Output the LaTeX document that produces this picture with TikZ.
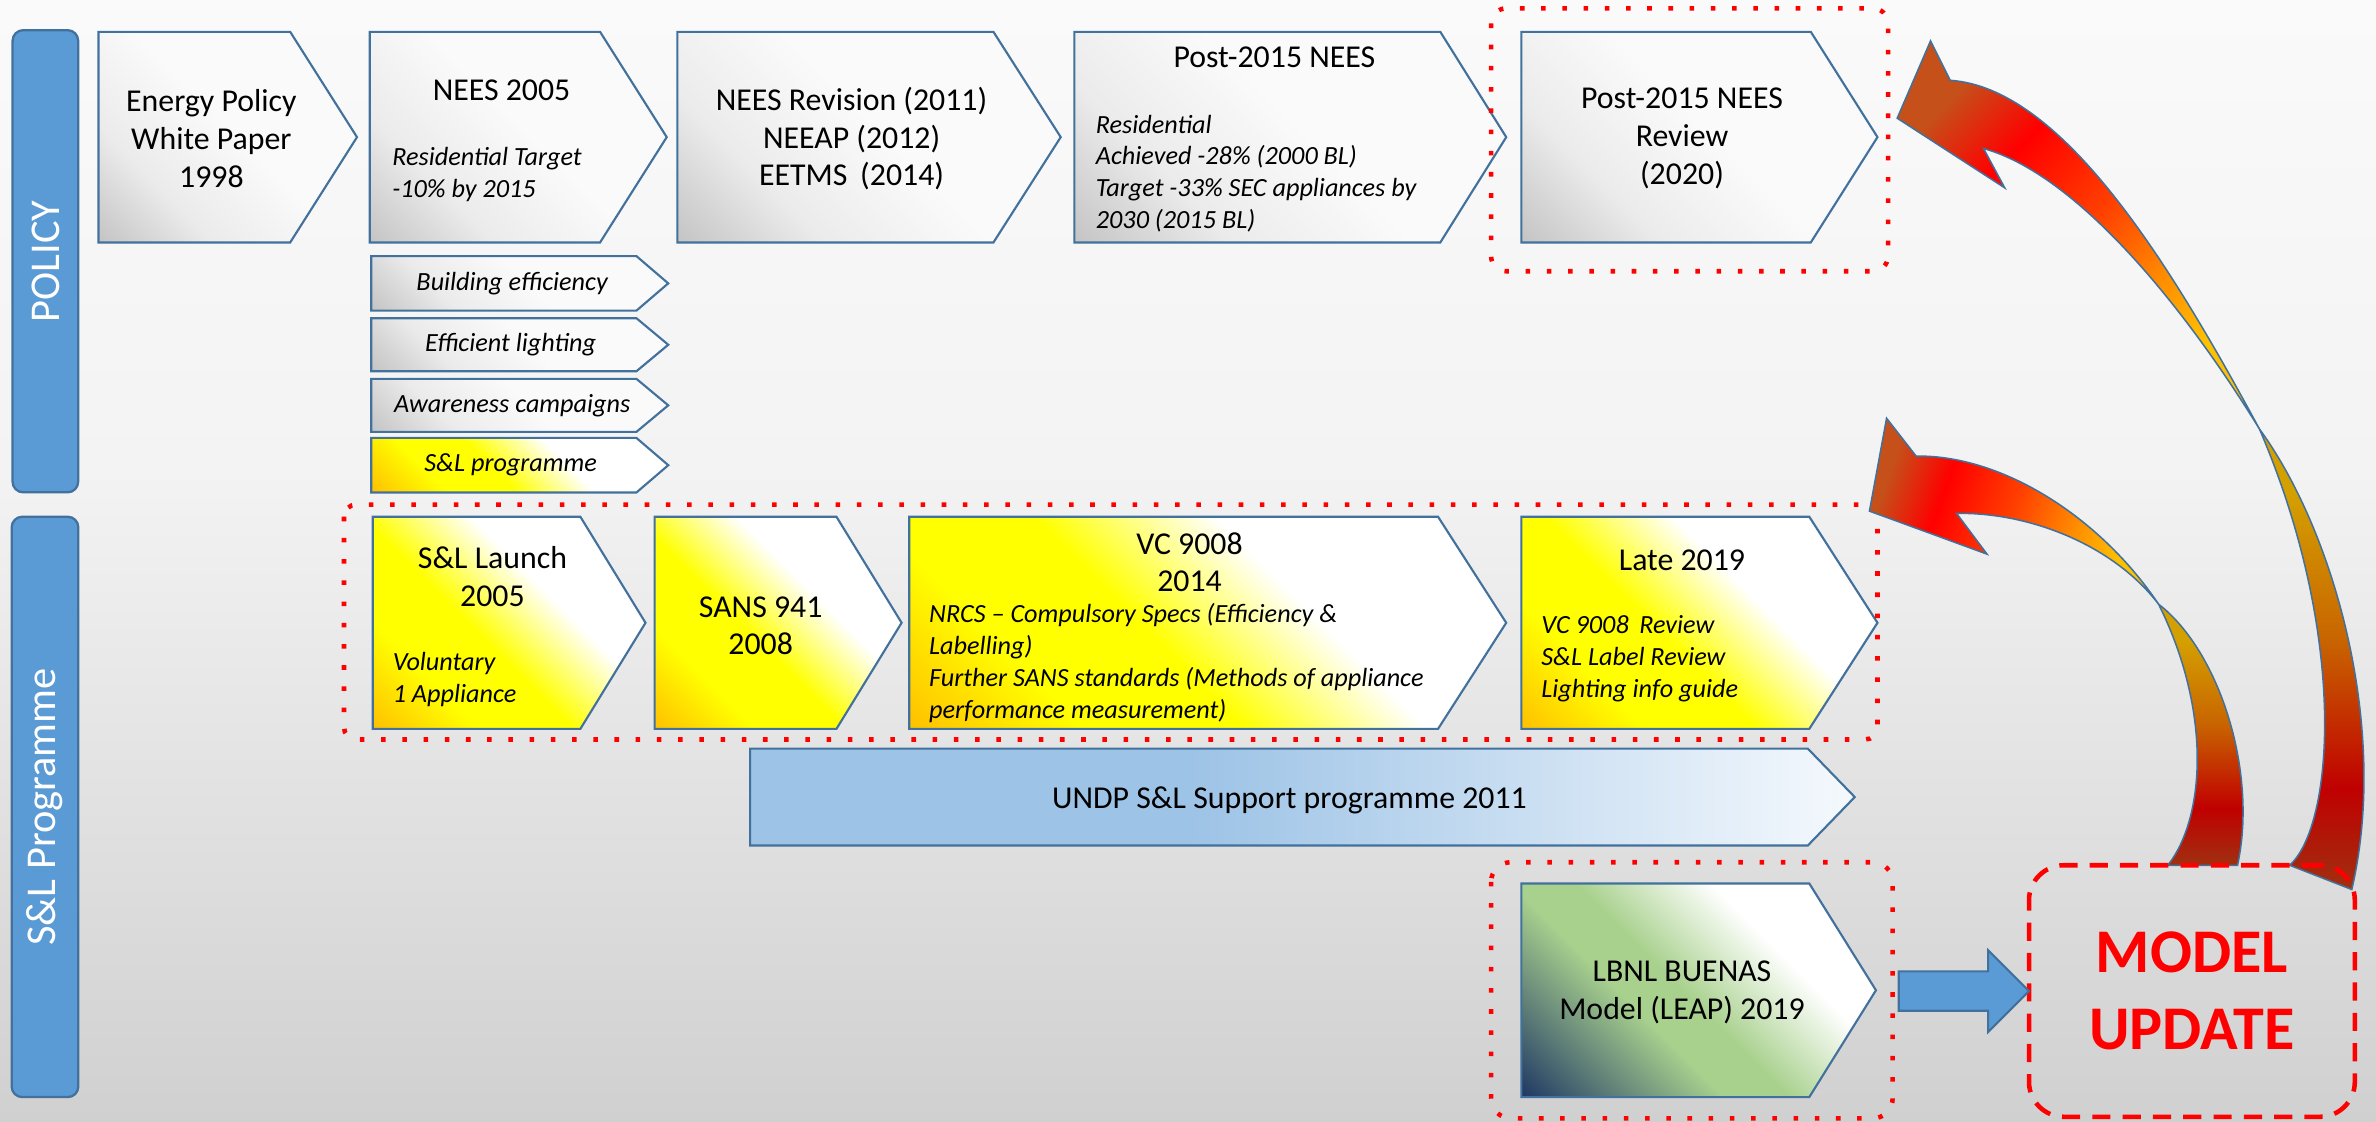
\documentclass[tikz,border=0pt]{standalone}
\usepackage{fontspec}
\setmainfont{Carlito}
\usetikzlibrary{shadings}
\definecolor{chevb}{HTML}{41719C}
\definecolor{barblue}{HTML}{5B9BD5}
\definecolor{bgT}{HTML}{FAFAFA}
\definecolor{bgM}{HTML}{F3F3F3}
\definecolor{bgB}{HTML}{D0D0D0}
\definecolor{grD}{HTML}{C4C4C4}
\definecolor{grM}{HTML}{EBEBEB}
\definecolor{grL}{HTML}{FAFAFA}
\definecolor{orY}{HTML}{FFC000}
\definecolor{yelY}{HTML}{FFFF00}
\definecolor{navyG}{HTML}{1F3864}
\definecolor{greenG}{HTML}{A9D18E}
\definecolor{blueU}{HTML}{9DC3E6}
\definecolor{whiteU}{HTML}{F5F9FD}
\definecolor{arBrown}{HTML}{C5501A}
\definecolor{arRed}{HTML}{FF0000}
\definecolor{arRedOr}{HTML}{FF4000}
\definecolor{arOr}{HTML}{FF8C00}
\definecolor{arGold}{HTML}{FFC000}
\definecolor{arGold2}{HTML}{D4A000}
\definecolor{arMid}{HTML}{C86400}
\definecolor{arDark}{HTML}{C00000}
\definecolor{arBase}{HTML}{A03010}
\pgfdeclareverticalshading{bgsh}{100bp}{color(0bp)=(bgB); color(25bp)=(bgB); color(54bp)=(bgM); color(75bp)=(bgT); color(100bp)=(bgT)}
\pgfdeclareverticalshading{graysh}{100bp}{color(0bp)=(grD); color(14.6bp)=(grD); color(32bp)=(grM); color(52bp)=(grL); color(100bp)=(grL)}
\pgfdeclareverticalshading{yelsh}{100bp}{color(0bp)=(orY); color(14.6bp)=(orY); color(30bp)=(yelY); color(44bp)=(yelY); color(60bp)=(white); color(100bp)=(white)}
\pgfdeclareverticalshading{greensh}{100bp}{color(0bp)=(navyG); color(14.6bp)=(navyG); color(40bp)=(greenG); color(48bp)=(greenG); color(65bp)=(white); color(100bp)=(white)}
\pgfdeclarehorizontalshading{undpsh}{100bp}{color(0bp)=(blueU); color(25bp)=(blueU); color(45bp)=(blueU); color(75bp)=(whiteU); color(100bp)=(whiteU)}
\pgfdeclarehorizontalshading{headsh}{100bp}{color(0bp)=(arBrown); color(25bp)=(arBrown); color(36bp)=(arRed); color(50bp)=(arRedOr); color(62bp)=(arOr); color(72bp)=(arGold); color(100bp)=(arGold)}
\pgfdeclareverticalshading{tailsh}{100bp}{color(0bp)=(arBase); color(25bp)=(arBase); color(36bp)=(arDark); color(52bp)=(arMid); color(68bp)=(arGold2); color(100bp)=(arGold2)}
\newcommand\mychev[6]{\shadedraw[#1] (#2,#3) -- (#4,#3) -- (#5,{(#3+#6)/2}) -- (#4,#6) -- (#2,#6) -- cycle;}
\begin{document}
\begin{tikzpicture}[x=1pt,y=-1pt,
  chev/.style={draw=chevb, line width=1.4pt, line join=miter},
  grayc/.style={chev, shading=graysh, shading angle=-45},
  yelc/.style={chev, shading=yelsh, shading angle=-45},
  greenc/.style={chev, shading=greensh, shading angle=-45},
  undpc/.style={chev, shading=undpsh, shading angle=0},
  main/.style={font=\fontsize{21}{25}\selectfont, align=center, inner sep=0pt},
  itx/.style={font=\fontsize{17.3}{21}\selectfont\itshape, align=left, inner sep=0pt, anchor=west},
  subt/.style={font=\fontsize{17.3}{21}\selectfont\itshape, inner sep=0pt},
  bar/.style={draw=chevb, line width=1.5pt, fill=barblue, rounded corners=7pt, rotate=90, font=\fontsize{28}{30}\selectfont, text=white, inner sep=0pt},
  dotbox/.style={draw=red, line width=3pt, dash pattern=on 3pt off 11pt, rounded corners=10pt},
  mubox/.style={draw=red, line width=3pt, dash pattern=on 12pt off 8pt, rounded corners=23pt, minimum width=215pt, minimum height=166pt, outer sep=0pt, font=\fontsize{41}{51}\selectfont\bfseries, text=red, align=center},
  bluearrow/.style={draw=chevb, line width=1.4pt, fill=barblue, line join=miter},
  arrowline/.style={draw=chevb, line width=1pt, line join=miter}]
\useasboundingbox (0,0) rectangle (1568,740);
\shade[shading=bgsh] (0,0) rectangle (1568,740);
% side bars
\node[bar, minimum width=305pt, minimum height=43.3pt] (policy) at (29.95,172.4) {POLICY};
\node[bar, minimum width=383pt, minimum height=44pt] (slprog) at (29.7,532.5) {S\&L Programme};
% top row
\mychev{grayc}{65}{21}{191.5}{235.6}{160}
\node[main] (ep) at (139.5,91.5) {Energy Policy\\White Paper\\1998};
\mychev{grayc}{244}{21}{396}{440}{160}
\node[main] (n05) at (331,59.5) {NEES 2005};
\node[itx] (n05t) at (258.7,115) {Residential Target\\-10\% by 2015};
\mychev{grayc}{447}{21}{655.6}{700}{160}
\node[main] (nrev) at (562,91.5) {NEES Revision (2011)\\NEEAP (2012)\\EETMS\hspace{0.4em}(2014)};
\mychev{grayc}{709}{21}{950.5}{994}{160}
\node[main] (p15) at (841,38) {Post-2015 NEES};
\node[itx] (p15t) at (723,114.5) {Residential\\Achieved -28\% (2000 BL)\\Target -33\% SEC appliances by\\2030 (2015 BL)};
\mychev{grayc}{1004}{21}{1195}{1239}{160}
\node[main] (p15r) at (1110,91.5) {Post-2015 NEES\\Review\\(2020)};
\draw[dotbox] (984,5.5) rectangle (1246,179);
% sub chevrons
\mychev{grayc}{245}{169}{420}{441}{205}
\node[subt] (be) at (338,187) {Building efficiency};
\mychev{grayc}{245}{210}{420}{441}{245}
\node[subt] (el) at (337,227.5) {Efficient lighting};
\mychev{grayc}{245}{250}{420}{441}{285}
\node[subt] (ac) at (338,267.5) {Awareness campaigns};
\mychev{yelc}{245}{289}{420}{441}{325}
\node[subt] (slp) at (337,307) {S\&L programme};
% row 2
\mychev{yelc}{246}{341}{383}{426}{481}
\node[main] (sll) at (325,380.5) {S\&L Launch\\2005};
\node[itx] (sllt) at (259,448.5) {Voluntary\\1 Appliance};
\mychev{yelc}{432}{341}{552}{595}{481}
\node[main] (sans) at (502,413) {SANS 941\\2008};
\mychev{yelc}{600}{341}{949}{994}{481}
\node[main] (vc) at (785,371) {VC 9008\\2014};
\node[itx] (vct) at (613,437.5) {NRCS – Compulsory Specs (Efficiency \&\\Labelling)\\Further SANS standards (Methods of appliance\\performance measurement)};
\mychev{yelc}{1004}{341}{1194}{1239}{481}
\node[main] (late) at (1110,370) {Late 2019};
\node[itx] (latet) at (1017,434.5) {VC 9008\hspace{0.4em}Review\\S\&L Label Review\\Lighting info guide};
\draw[dotbox, rounded corners=8pt] (227,333) rectangle (1239,488);
% UNDP
\mychev{undpc}{495}{494}{1193}{1224}{558}
\node[main] (undp) at (851,528) {UNDP S\&L Support programme 2011};
% LBNL
\mychev{greenc}{1004}{583}{1194}{1238}{724}
\node[main] (lbnl) at (1110,655) {LBNL BUENAS\\Model (LEAP) 2019};
\draw[dotbox, rounded corners=13pt] (984,569) rectangle (1249,738);
% curved arrows
\shadedraw[arrowline, shading=headsh, shading angle=-45]
  (1491,283) .. controls (1430,170) and (1360,58) .. (1287,53) -- (1274,27) -- (1252,78) -- (1323,124) -- (1309,98)
  .. controls (1370,115) and (1440,200) .. (1491,283) -- cycle;
\shadedraw[arrowline, shading=tailsh]
  (1491,283) .. controls (1540,350) and (1577,480) .. (1552,587) -- (1511,571)
  .. controls (1540,545) and (1550,420) .. (1491,283) -- cycle;
\shadedraw[arrowline, shading=headsh, shading angle=-20]
  (1424.5,398.7) .. controls (1385,340) and (1320,300) .. (1264.5,301) -- (1245,276) -- (1233.7,337.3) -- (1311.3,365.7) -- (1291.2,338.8)
  .. controls (1340,338) and (1395,360) .. (1424.5,398.7) -- cycle;
\shadedraw[arrowline, shading=tailsh]
  (1424.5,398.7) .. controls (1465,430) and (1490,510) .. (1476.6,571) -- (1430.6,571)
  .. controls (1455,540) and (1460,470) .. (1424.5,398.7) -- cycle;
% model update
\node[mubox] (mu) at (1446.5,654) {MODEL\\UPDATE};
\coordinate (bs1) at (1253,641);
\coordinate (bs2) at (1253,667);
\draw[bluearrow] (bs1) -- (1312,641) -- (1312,627) -- (mu.west) -- (1312,681) -- (1312,667) -- (bs2) -- cycle;
\end{tikzpicture}
\end{document}
